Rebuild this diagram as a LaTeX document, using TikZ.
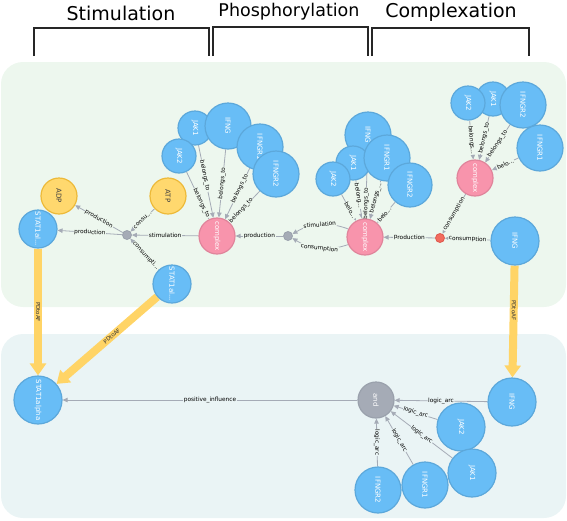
\documentclass[tikz,border=0pt]{standalone}
\usepackage{fontspec}
\setmainfont{DejaVu Sans}
\usetikzlibrary{arrows.meta}
\definecolor{nblue}{HTML}{68BDF6}
\definecolor{nblueD}{HTML}{5CA8DB}
\definecolor{nyel}{HTML}{FFD86E}
\definecolor{nyelD}{HTML}{EDBA39}
\definecolor{npink}{HTML}{F894AC}
\definecolor{npinkD}{HTML}{E0849B}
\definecolor{ngrey}{HTML}{A5ABB6}
\definecolor{ngreyD}{HTML}{9AA1AC}
\definecolor{nred}{HTML}{F26B5E}
\definecolor{nredD}{HTML}{DE5A4E}
\definecolor{egrey}{HTML}{A5ABB6}
\definecolor{fatY}{HTML}{FFD466}
\definecolor{topbg}{HTML}{EDF7EE}
\definecolor{botbg}{HTML}{EAF4F5}
\newcommand\rtx[1]{\rotatebox{-90}{#1}}
\pgfdeclarelayer{bg}
\pgfdeclarelayer{edges}
\pgfsetlayers{bg,edges,main}
\begin{document}
\begin{tikzpicture}[x=1pt,y=-1pt,
  base/.style={circle, inner sep=0pt, line width=1.2pt, font=\fontsize{7}{8}\selectfont, text=white},
  bn/.style={base, fill=nblue, draw=nblueD, minimum size=#1},
  yn/.style={base, fill=nyel, draw=nyelD, minimum size=#1, text=black!75},
  pn/.style={base, fill=npink, draw=npinkD, minimum size=#1},
  gn/.style={base, fill=ngrey, draw=ngreyD, minimum size=#1},
  hub/.style={circle, inner sep=0pt, minimum size=9pt, fill=ngrey, draw=ngreyD, line width=0.8pt},
  rhub/.style={hub, fill=nred, draw=nredD},
  edge/.style={draw=egrey, line width=0.8pt, -{Triangle[length=5pt,width=4.5pt]}},
  elab/.style={font=\fontsize{5.8}{6}\selectfont, fill=#1, inner sep=0.6pt, sloped, text=black},
  elab/.default=topbg,
  fat/.style={draw=fatY, line width=8pt, -{Triangle[length=12pt,width=16pt]}},
  flab/.style={font=\fontsize{5.5}{6}\selectfont, text=black!80, inner sep=0pt},
  bracket/.style={draw=black!85, line width=1.2pt},
  hdr/.style={font=\fontsize{19}{22}\selectfont, inner sep=0pt, anchor=base}
]
\useasboundingbox (0,0) rectangle (567,520);

% panels
\begin{pgfonlayer}{bg}
\fill[topbg, rounded corners=22pt] (1,62) rectangle (566,307);
\fill[botbg, rounded corners=22pt] (1,334) rectangle (566,518);
\end{pgfonlayer}

% headers
\node[hdr] (hS) at (121,20) {Stimulation};
\node[hdr, font=\fontsize{17.5}{20}\selectfont] (hP) at (289,16) {Phosphorylation};
\node[hdr] (hC) at (451,17) {Complexation};
\draw[bracket] (34,56) -- (34,28) -- (209,28) -- (209,56);
\draw[bracket] (213,56) -- (213,27) -- (368,27) -- (368,56);
\draw[bracket] (372,56) -- (372,28) -- (529,28) -- (529,56);

% ---------- top panel nodes ----------
\node[yn=36] (adp) at (59,196) {\rtx{ADP}};
\node[yn=36] (atp) at (168,196) {\rtx{ATP}};
\node[bn=38] (stA) at (38,229) {\rtx{STAT1al...}};
\node[bn=38] (stB) at (172,284) {\rtx{STAT1al...}};
\node[hub] (h1) at (127,235) {};
\node[pn=36] (c1) at (217,236) {\rtx{complex}};
\node[bn=34] (c1j1) at (195,128) {\rtx{JAK1}};
\node[bn=34] (c1j2) at (179,156) {\rtx{JAK2}};
\node[bn=46] (c1g) at (228,126) {\rtx{IFNG}};
\node[bn=46] (c1r1) at (260,147) {\rtx{IFNGR1}};
\node[bn=46] (c1r2) at (276,174) {\rtx{IFNGR2}};

\node[hub] (h2) at (288,236) {};
\node[pn=36] (c2) at (365,237) {\rtx{complex}};
\node[bn=46] (c2g) at (368,135) {\rtx{IFNG}};
\node[bn=34] (c2j1) at (353,163) {\rtx{JAK1}};
\node[bn=34] (c2j2) at (333,179) {\rtx{JAK2}};
\node[bn=46] (c2r1) at (387,158) {\rtx{IFNGR1}};
\node[bn=44] (c2r2) at (410,185) {\rtx{IFNGR2}};

\node[rhub] (h3) at (440,238) {};
\node[pn=36] (c3) at (475,178) {\rtx{complex}};
\node[bn=34] (c3j1) at (493,99) {\rtx{JAK1}};
\node[bn=34] (c3j2) at (468,103) {\rtx{JAK2}};
\node[bn=46] (c3r2) at (523,105) {\rtx{IFNGR2}};
\node[bn=46] (c3r1) at (540,148) {\rtx{IFNGR1}};
\node[bn=48] (ifngT) at (515,241) {\rtx{IFNG}};

% ---------- bottom panel nodes ----------
\node[bn=48] (sa) at (38,400) {\rtx{STAT1alpha}};
\node[gn=36] (andn) at (376,400) {\rtx{and}};
\node[bn=48] (ifngB) at (512,402) {\rtx{IFNG}};
\node[bn=48] (jak2B) at (461,427) {\rtx{JAK2}};
\node[bn=48] (jak1B) at (472,473) {\rtx{JAK1}};
\node[bn=46] (r1B) at (425,485) {\rtx{IFNGR1}};
\node[bn=46] (r2B) at (378,490) {\rtx{IFNGR2}};

\begin{pgfonlayer}{edges}
% stimulation hub
\draw[edge] (c1) -- node[elab]{stimulation} (h1);
\draw[edge] (h1) -- node[elab]{production} (adp);
\draw[edge] (h1) -- node[elab]{production} (stA);
\draw[edge] (atp) -- node[elab]{consu...} (h1);
\draw[edge] (stB) -- node[elab, pos=0.45]{consumpti...} (h1);
% complex 1
\draw[edge] (c1j2) -- node[elab, pos=0.66]{belongs\_to} (c1);
\draw[edge] (c1j1) -- node[elab, pos=0.42]{belongs\_to} (c1);
\draw[edge] (c1g) -- node[elab, pos=0.5]{belongs\_to} (c1);
\draw[edge] (c1r1) -- node[elab, pos=0.4]{belongs\_to} (c1);
\draw[edge] (c1r2) -- node[elab, pos=0.62]{belongs\_to} (c1);
% phosphorylation hub
\draw[edge] (h2) -- node[elab]{production} (c1);
\draw[edge] (c2) to[bend right=25] node[elab]{stimulation} (h2);
\draw[edge] (c2) to[bend left=25] node[elab]{consumption} (h2);
% complex 2
\draw[edge] (c2j2) -- node[elab, pos=0.6]{belo...} (c2);
\draw[edge] (c2j1) -- node[elab, pos=0.4]{belong...} (c2);
\draw[edge] (c2g) -- node[elab, pos=0.75]{belongs\_to} (c2);
\draw[edge] (c2r1) -- node[elab, pos=0.45]{belongs\_...} (c2);
\draw[edge] (c2r2) -- node[elab, pos=0.6]{belo...} (c2);
% complexation hub
\draw[edge] (h3) -- node[elab]{production} (c2);
\draw[edge] (ifngT) -- node[elab]{consumption} (h3);
\draw[edge] (c3) -- node[elab]{consumption} (h3);
% complex 3
\draw[edge] (c3j2) -- node[elab]{belongs...} (c3);
\draw[edge] (c3j1) -- node[elab]{belongs\_to} (c3);
\draw[edge] (c3r2) -- node[elab]{belongs\_to} (c3);
\draw[edge] (c3r1) -- node[elab]{belo...} (c3);
% bottom
\draw[edge] (andn) -- node[elab=botbg]{positive\_influence} (sa);
\draw[edge] (ifngB) -- node[elab=botbg]{logic\_arc} (andn);
\draw[edge] (jak2B) -- node[elab=botbg]{logic\_arc} (andn);
\draw[edge] (jak1B) -- node[elab=botbg]{logic\_arc} (andn);
\draw[edge] (r1B) -- node[elab=botbg]{logic\_arc} (andn);
\draw[edge] (r2B) -- node[elab=botbg, sloped=false, rotate=-90]{logic\_arc} (andn);
% PDtoAF
\draw[fat] (stA) -- node[flab, rotate=-90, pos=0.5]{PDtoAF} (sa);
\draw[fat] (stB) -- node[flab, sloped, pos=0.45]{PDtoAF} (sa);
\draw[fat] (ifngT) -- node[flab, rotate=-90, pos=0.4]{PDtoAF} (ifngB);
\end{pgfonlayer}
\end{tikzpicture}
\end{document}
